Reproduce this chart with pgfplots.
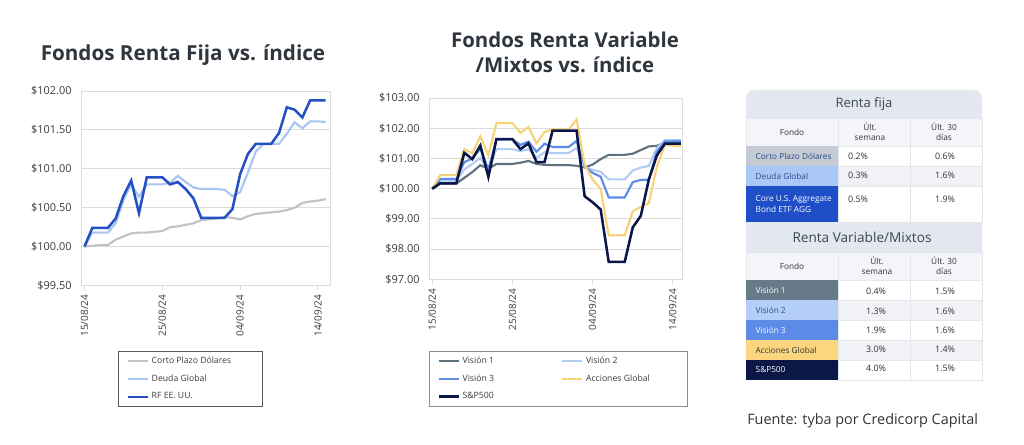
\documentclass[border=0pt]{standalone}
\usepackage{pgfplots}
\pgfplotsset{compat=1.18}
\usepackage{fontspec}
\setmainfont{Open Sans}
\definecolor{cpd}{HTML}{BEC3CA}
\definecolor{dgl}{HTML}{A8C5F3}
\definecolor{rfu}{HTML}{2350C2}
\definecolor{vone}{HTML}{5E7280}
\definecolor{vtwo}{HTML}{B3CCF4}
\definecolor{vthree}{HTML}{5F8CE6}
\definecolor{accg}{HTML}{F6D27A}
\definecolor{spc}{HTML}{0A1748}
\definecolor{titlec}{HTML}{2F363D}
\definecolor{tickc}{HTML}{3C3C3C}
\definecolor{gridc}{HTML}{DCDCDC}
\definecolor{tblbg}{HTML}{E3E7EF}
\definecolor{hdrbg}{HTML}{F3F5F8}
\definecolor{rowgray}{HTML}{F1F2F5}
\definecolor{cellline}{HTML}{E3E6EB}
\definecolor{tbltxt}{HTML}{333333}
\definecolor{hdrtxt}{HTML}{3A4756}
\definecolor{cpdfill}{HTML}{C5CBD4}
\definecolor{dgfill}{HTML}{AAC8F7}
\definecolor{rffill}{HTML}{1E4EC8}
\definecolor{v1fill}{HTML}{667A88}
\definecolor{v2fill}{HTML}{B4CFF7}
\definecolor{v3fill}{HTML}{5B8BE6}
\definecolor{accfill}{HTML}{FBD67E}
\definecolor{spfill}{HTML}{0B1745}
\definecolor{navytxt}{HTML}{2B4A8E}
\pgfplotsset{
  mychart/.style={
    scale only axis,
    axis line style={draw=gridc, line width=0.7pt},
    ymajorgrids, major grid style={draw=gridc, line width=0.7pt},
    xtick={0,10,20,30},
    xticklabels={15/08/24,25/08/24,04/09/24,14/09/24},
    xtick pos=lower, tick align=outside, major tick length=3.5pt,
    xtick style={draw=gridc, line width=0.7pt},
    ytick style={draw=none},
    x tick label style={rotate=90, anchor=east, font=\fontsize{7.5}{9}\selectfont, text=tickc},
    y tick label style={font=\fontsize{8.2}{10}\selectfont, text=tickc},
    /pgf/number format/assume math mode=true,
    yticklabel={\$\pgfmathprintnumber[fixed,fixed zerofill,precision=2]{\tick}},
    legend cell align=left,
    legend image code/.code={\draw[##1] (0pt,0pt) -- (15pt,0pt);},
  }
}
\begin{document}
\begin{tikzpicture}
\begin{scope}[x=0.75pt,y=-0.75pt]
  \path[fill=white] (0,0) rectangle (1024,445);
  % titles
  \node[font=\fontsize{15.5}{18}\selectfont\bfseries, text=titlec] at (183,55) {Fondos Renta Fija vs. índice};
  \node[font=\fontsize{15.3}{18.75}\selectfont\bfseries, text=titlec, align=center] at (565,52) {Fondos Renta Variable\\/Mixtos vs. índice};
  % table background
  \fill[tblbg, rounded corners=6pt] (746,90) rectangle (982,380);
  % Renta fija header
  \node[font=\fontsize{9.8}{11}\selectfont, text=hdrtxt] at (864,104) {Renta fija};
  \draw[cellline, fill=hdrbg] (746,118) rectangle (838,146);
  \draw[cellline, fill=hdrbg] (838,118) rectangle (910,146);
  \draw[cellline, fill=hdrbg] (910,118) rectangle (982,146);
  \node[font=\fontsize{6.2}{7.5}\selectfont, text=tbltxt] at (792,132) {Fondo};
  \node[font=\fontsize{6.2}{7.5}\selectfont, text=tbltxt, align=center] at (870,132) {Últ.\\semana};
  \node[font=\fontsize{6.2}{7.5}\selectfont, text=tbltxt, align=center] at (944,132) {Últ. 30\\días};
  % rows RF
  \fill[cpdfill] (746,146) rectangle (838,166);
  \draw[cellline, fill=white] (838,146) rectangle (910,166);
  \draw[cellline, fill=white] (910,146) rectangle (982,166);
  \node[font=\fontsize{6.2}{7.5}\selectfont, text=navytxt, anchor=west] at (751,156) {Corto Plazo Dólares};
  \node[font=\fontsize{6.7}{8}\selectfont, text=tbltxt] at (858,156) {0.2\%};
  \node[font=\fontsize{6.7}{8}\selectfont, text=tbltxt] at (945,156) {0.6\%};
  \fill[dgfill] (746,166) rectangle (838,186);
  \draw[cellline, fill=rowgray] (838,166) rectangle (910,186);
  \draw[cellline, fill=rowgray] (910,166) rectangle (982,186);
  \node[font=\fontsize{6.2}{7.5}\selectfont, text=navytxt, anchor=west] at (751,176) {Deuda Global};
  \node[font=\fontsize{6.7}{8}\selectfont, text=tbltxt] at (858,175) {0.3\%};
  \node[font=\fontsize{6.7}{8}\selectfont, text=tbltxt] at (945,175) {1.6\%};
  \fill[rffill] (746,186) rectangle (838,222);
  \draw[cellline, fill=white] (838,186) rectangle (910,222);
  \draw[cellline, fill=white] (910,186) rectangle (982,222);
  \node[font=\fontsize{6.2}{8.5}\selectfont, text=white, anchor=west, align=left] at (751,204) {Core U.S. Aggregate\\Bond ETF AGG};
  \node[font=\fontsize{6.7}{8}\selectfont, text=tbltxt] at (858,199) {0.5\%};
  \node[font=\fontsize{6.7}{8}\selectfont, text=tbltxt] at (945,199) {1.9\%};
  % Renta variable header
  \node[font=\fontsize{10.2}{12}\selectfont, text=hdrtxt] at (862,237) {Renta Variable/Mixtos};
  \draw[cellline, fill=hdrbg] (746,252) rectangle (838,280);
  \draw[cellline, fill=hdrbg] (838,252) rectangle (910,280);
  \draw[cellline, fill=hdrbg] (910,252) rectangle (982,280);
  \node[font=\fontsize{6.2}{7.5}\selectfont, text=tbltxt] at (792,266) {Fondo};
  \node[font=\fontsize{6.2}{7.5}\selectfont, text=tbltxt, align=center] at (877,266) {Últ.\\semana};
  \node[font=\fontsize{6.2}{7.5}\selectfont, text=tbltxt, align=center] at (944,266) {Últ. 30\\días};
  % rows RV
  \fill[v1fill] (746,280) rectangle (838,300);
  \draw[cellline, fill=white] (838,280) rectangle (910,300);
  \draw[cellline, fill=white] (910,280) rectangle (982,300);
  \node[font=\fontsize{6.2}{7.5}\selectfont, text=white, anchor=west] at (751,290) {Visión 1};
  \node[font=\fontsize{6.7}{8}\selectfont, text=tbltxt] at (876,291) {0.4\%};
  \node[font=\fontsize{6.7}{8}\selectfont, text=tbltxt] at (945,291) {1.5\%};
  \fill[v2fill] (746,300) rectangle (838,320);
  \draw[cellline, fill=rowgray] (838,300) rectangle (910,320);
  \draw[cellline, fill=rowgray] (910,300) rectangle (982,320);
  \node[font=\fontsize{6.2}{7.5}\selectfont, text=navytxt, anchor=west] at (751,310) {Visión 2};
  \node[font=\fontsize{6.7}{8}\selectfont, text=tbltxt] at (876,311) {1.3\%};
  \node[font=\fontsize{6.7}{8}\selectfont, text=tbltxt] at (945,311) {1.6\%};
  \fill[v3fill] (746,320) rectangle (838,340);
  \draw[cellline, fill=white] (838,320) rectangle (910,340);
  \draw[cellline, fill=white] (910,320) rectangle (982,340);
  \node[font=\fontsize{6.2}{7.5}\selectfont, text=white, anchor=west] at (751,330) {Visión 3};
  \node[font=\fontsize{6.7}{8}\selectfont, text=tbltxt] at (876,330) {1.9\%};
  \node[font=\fontsize{6.7}{8}\selectfont, text=tbltxt] at (945,330) {1.6\%};
  \fill[accfill] (746,340) rectangle (838,360);
  \draw[cellline, fill=rowgray] (838,340) rectangle (910,360);
  \draw[cellline, fill=rowgray] (910,340) rectangle (982,360);
  \node[font=\fontsize{6.2}{7.5}\selectfont, text=tbltxt, anchor=west] at (751,350) {Acciones Global};
  \node[font=\fontsize{6.7}{8}\selectfont, text=tbltxt] at (876,349) {3.0\%};
  \node[font=\fontsize{6.7}{8}\selectfont, text=tbltxt] at (945,349) {1.4\%};
  \fill[spfill] (746,360) rectangle (838,380);
  \draw[cellline, fill=white] (838,360) rectangle (910,380);
  \draw[cellline, fill=white] (910,360) rectangle (982,380);
  \node[font=\fontsize{6.2}{7.5}\selectfont, text=white, anchor=west] at (751,370) {S\&P500};
  \node[font=\fontsize{6.7}{8}\selectfont, text=tbltxt] at (876,368) {4.0\%};
  \node[font=\fontsize{6.7}{8}\selectfont, text=tbltxt] at (945,368) {1.5\%};
  % source
  \node[font=\fontsize{10.8}{13}\selectfont, text=tbltxt, anchor=west, inner sep=0pt] at (747,421) {Fuente: tyba por Credicorp Capital};
\end{scope}

% ---------- Chart 1 ----------
\begin{axis}[mychart,
  at={(60.75pt,-214.125pt)}, anchor=south west,
  width=186.75pt, height=145.875pt,
  xmin=-0.45, xmax=31.55, ymin=99.5, ymax=102,
  ytick={99.5,100,100.5,101,101.5,102},
  legend style={at={(0.149,-0.337)}, anchor=north west, draw=black!65, line width=0.6pt,
    font=\fontsize{6.5}{8}\selectfont, text=tickc, inner xsep=6pt, inner ysep=2pt, row sep=3pt},
]
\addplot[cpd, line width=1.6pt] table {
0 100.00
1 100.01
2 100.02
3 100.02
4 100.09
5 100.13
6 100.17
7 100.18
8 100.18
9 100.19
10 100.20
11 100.25
12 100.26
13 100.28
14 100.30
15 100.34
16 100.35
17 100.36
18 100.38
19 100.37
20 100.35
21 100.39
22 100.42
23 100.43
24 100.44
25 100.45
26 100.47
27 100.50
28 100.56
29 100.58
30 100.59
31 100.61
};
\addlegendentry{\makebox[75pt][l]{Corto Plazo Dólares}}
\addplot[dgl, line width=1.6pt] table {
0 100.00
1 100.18
2 100.18
3 100.18
4 100.30
5 100.60
6 100.80
7 100.64
8 100.80
9 100.80
10 100.80
11 100.82
12 100.91
13 100.83
14 100.76
15 100.74
16 100.74
17 100.74
18 100.73
19 100.65
20 100.70
21 100.95
22 101.22
23 101.32
24 101.32
25 101.32
26 101.45
27 101.60
28 101.52
29 101.61
30 101.61
31 101.60
};
\addlegendentry{\makebox[75pt][l]{Deuda Global}}
\addplot[rfu, line width=1.9pt] table {
0 100.00
1 100.24
2 100.24
3 100.24
4 100.36
5 100.65
6 100.85
7 100.43
8 100.89
9 100.89
10 100.89
11 100.80
12 100.83
13 100.74
14 100.62
15 100.37
16 100.37
17 100.37
18 100.37
19 100.48
20 100.93
21 101.19
22 101.32
23 101.32
24 101.32
25 101.46
26 101.79
27 101.76
28 101.66
29 101.88
30 101.88
31 101.88
};
\addlegendentry{\makebox[75pt][l]{RF EE. UU.}}
\end{axis}

% ---------- Chart 2 ----------
\begin{axis}[mychart,
  at={(321.75pt,-209.475pt)}, anchor=south west,
  width=190.125pt, height=135.9pt,
  xmin=-0.4, xmax=31.2, ymin=97, ymax=103,
  ytick={97,98,99,100,101,102,103},
  legend columns=2,
  legend style={at={(0,-0.394)}, anchor=north west, draw=black!45, line width=0.6pt,
    font=\fontsize{6.5}{8}\selectfont, text=tickc, inner xsep=6pt, inner ysep=2pt, row sep=3pt},
]
\addplot[vone, line width=1.6pt] table {
0 100.00
1 100.17
2 100.17
3 100.17
4 100.36
5 100.55
6 100.78
7 100.66
8 100.82
9 100.82
10 100.82
11 100.86
12 100.92
13 100.82
14 100.79
15 100.78
16 100.78
17 100.78
18 100.76
19 100.70
20 100.80
21 100.98
22 101.12
23 101.12
24 101.12
25 101.16
26 101.28
27 101.40
28 101.42
29 101.52
30 101.52
31 101.52
};
\addlegendentry{\makebox[72pt][l]{Visión 1}}
\addplot[vtwo, line width=1.6pt] table {
0 100.00
1 100.27
2 100.27
3 100.27
4 100.64
5 100.82
6 101.02
7 100.62
8 101.31
9 101.31
10 101.31
11 101.24
12 101.31
13 101.02
14 101.21
15 101.18
16 101.18
17 101.18
18 101.35
19 100.72
20 100.62
21 100.56
22 100.31
23 100.31
24 100.31
25 100.60
26 100.70
27 100.75
28 101.35
29 101.61
30 101.61
31 101.61
};
\addlegendentry{\makebox[68pt][l]{Visión 2}}
\addplot[vthree, line width=1.6pt] table {
0 100.00
1 100.32
2 100.32
3 100.32
4 100.88
5 101.00
6 101.33
7 100.64
8 101.63
9 101.63
10 101.63
11 101.45
12 101.56
13 101.22
14 101.49
15 101.38
16 101.38
17 101.38
18 101.58
19 100.75
20 100.52
21 100.40
22 99.71
23 99.71
24 99.71
25 100.22
26 100.29
27 100.30
28 101.22
29 101.56
30 101.57
31 101.57
};
\addlegendentry{\makebox[72pt][l]{Visión 3}}
\addplot[accg, line width=1.6pt] table {
0 100.00
1 100.45
2 100.45
3 100.45
4 101.31
5 101.17
6 101.74
7 101.11
8 102.17
9 102.17
10 102.17
11 101.85
12 102.04
13 101.50
14 101.88
15 101.96
16 101.96
17 101.96
18 102.29
19 100.80
20 100.30
21 100.00
22 98.46
23 98.46
24 98.46
25 99.25
26 99.40
27 99.52
28 100.72
29 101.45
30 101.42
31 101.40
};
\addlegendentry{\makebox[68pt][l]{Acciones Global}}
\addplot[spc, line width=1.9pt] table {
0 100.00
1 100.18
2 100.18
3 100.18
4 101.19
5 100.98
6 101.43
7 100.39
8 101.64
9 101.64
10 101.64
11 101.31
12 101.50
13 100.88
14 100.88
15 101.92
16 101.92
17 101.92
18 101.92
19 99.75
20 99.55
21 99.31
22 97.58
23 97.58
24 97.58
25 98.72
26 99.10
27 100.30
28 101.10
29 101.49
30 101.49
31 101.49
};
\addlegendentry{\makebox[72pt][l]{S\&P500}}
\end{axis}
\end{tikzpicture}
\end{document}
